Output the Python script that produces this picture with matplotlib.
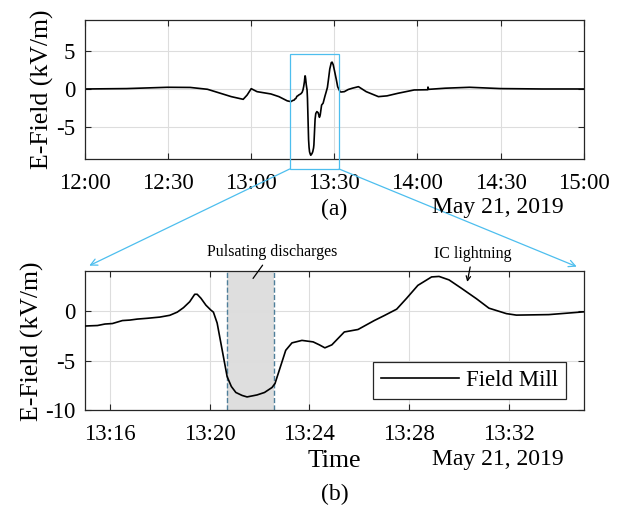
import numpy as np
import matplotlib
matplotlib.use('Agg')
from matplotlib import pyplot as plt
from matplotlib.patches import Rectangle, ConnectionPatch
from matplotlib.ticker import FuncFormatter

plt.rcParams['font.family'] = ['Liberation Serif', 'DejaVu Serif']
plt.rcParams['axes.unicode_minus'] = False

# -----------------------------------------------
# данные: время в минутах после 12:00, поле в kV/m
wide_t_before = [0, 15, 29.8, 38, 44.2, 47, 52.8, 57.1, 58.5, 60, 62.1, 67.1, 70, 73, 74.3]
wide_v_before = [0.0, 0.05, 0.22, 0.2, -0.04, -0.35, -1.0, -1.35, -0.8, 0.04, -0.35, -0.65, -1.0, -1.55, -1.65]

wide_t_after = [96.5, 98.7, 101.5, 105.9, 109, 113, 118.8, 123.7, 123.8, 124, 130, 138.8, 150, 165, 180]
wide_v_after = [0.1, 0.3, -0.35, -1.0, -0.9, -0.56, -0.13, -0.1, 0.25, -0.05, 0.1, 0.22, 0.05, 0.0, 0.0]

# минуты после 13:15 (увеличенный фрагмент)
zoom_t = [0.0, 0.5, 0.8, 1.1, 1.3, 1.5, 1.8, 2.1, 2.5, 3.0, 3.4, 3.7, 3.95, 4.2, 4.4, 4.5,
          4.65, 4.85, 5.05, 5.15, 5.3, 5.5, 5.7, 5.87, 6.05, 6.3, 6.5, 6.7, 6.9, 7.2, 7.5,
          7.62, 7.8, 8.05, 8.3, 8.7, 9.15, 9.4, 9.62, 9.9, 10.4, 10.95, 11.6, 12.0, 12.5,
          12.9, 13.35, 13.9, 14.2, 14.6, 15.1, 15.7, 16.2, 16.9, 17.3, 18.6, 20.0]
zoom_v = [-1.5, -1.45, -1.3, -1.25, -1.1, -0.95, -0.9, -0.8, -0.72, -0.6, -0.42, -0.1, 0.35,
          0.95, 1.7, 1.7, 1.3, 0.6, 0.1, -0.1, -1.2, -3.9, -6.6, -7.6, -8.2, -8.5, -8.65,
          -8.55, -8.45, -8.2, -7.7, -7.3, -5.9, -3.95, -3.2, -2.95, -3.1, -3.4, -3.7, -3.4,
          -2.1, -1.85, -0.95, -0.45, 0.2, 1.3, 2.6, 3.45, 3.5, 3.15, 2.3, 1.25, 0.3, -0.25,
          -0.4, -0.35, -0.07]
zoom_offset = 75  # 13:15

top_ticks = [0, 30, 60, 90, 120, 150, 180]
bottom_ticks = [76, 80, 84, 88, 92]
pulse_start, pulse_end = 80.68, 82.58
ic_time = 90.33
date_text = 'May 21, 2019'
# -----------------------------------------------

zt = np.array(zoom_t) + zoom_offset
wide_t = np.concatenate([wide_t_before, zt, wide_t_after])
wide_v = np.concatenate([wide_v_before, zoom_v, wide_v_after])

blue = '#4DBEEE'
fs_tick = 16.5


def hhmm(x, pos=None):
    m = int(round(x)) + 12 * 60
    return f'{m // 60}:{m % 60:02d}'


def style_axes(ax):
    ax.grid(True, color='#DDDDDD', linewidth=0.8)
    ax.set_axisbelow(True)
    ax.tick_params(direction='in', top=True, right=True, length=4, width=0.8,
                   labelsize=fs_tick, color='#262626')
    ax.tick_params(axis='x', pad=10)
    ax.tick_params(axis='y', pad=7)
    for s in ax.spines.values():
        s.set_color('#262626')
        s.set_linewidth(0.9)
    ax.xaxis.set_major_formatter(FuncFormatter(hhmm))


fig = plt.figure(figsize=(6.24, 5.08), dpi=100)
ax1 = fig.add_axes([0.1362, 0.6876, 0.7992, 0.273])
ax2 = fig.add_axes([0.1362, 0.1923, 0.7992, 0.2733])

# (a) общий вид
ax1.plot(wide_t, wide_v, color='black', linewidth=1.2)
ax1.set_xlim(0, 180)
ax1.set_ylim(-9.1, 9)
ax1.set_xticks(top_ticks)
ax1.set_yticks([-5, 0, 5])
style_axes(ax1)
ax1.set_ylabel('E-Field (kV/m)', fontsize=18.5, va='center')
ax1.yaxis.set_label_coords(-0.085, 0.5)

rect = Rectangle((73.9, -10.44), 91.7 - 73.9, 4.57 + 10.44, fill=False,
                 edgecolor=blue, linewidth=0.9, clip_on=False, zorder=5)
ax1.add_patch(rect)

# (b) увеличенный фрагмент
ax2.axvspan(pulse_start, pulse_end, color='#DEDEDE', zorder=0.5, linewidth=0)
for xv in (pulse_start, pulse_end):
    ax2.axvline(xv, color='#4F7F9A', linestyle='--', linewidth=1.0, zorder=1)
ax2.plot(zt, zoom_v, color='black', linewidth=1.2, label='Field Mill', zorder=3)
ax2.set_xlim(75, 95)
ax2.set_ylim(-10, 4)
ax2.set_xticks(bottom_ticks)
ax2.set_yticks([-10, -5, 0])
style_axes(ax2)
ax2.set_ylabel('E-Field (kV/m)', fontsize=18.5, va='center')
ax2.yaxis.set_label_coords(-0.105, 0.5)
ax2.set_xlabel('Time', fontsize=18.5, va='center')
ax2.xaxis.set_label_coords(0.5, -0.365)

leg = ax2.legend(loc='lower right', bbox_to_anchor=(0.9645, 0.081), fontsize=fs_tick,
                 frameon=True, fancybox=False, edgecolor='#262626', framealpha=1,
                 handlelength=3.4, borderaxespad=0, borderpad=0.35, handletextpad=0.3)
leg.get_frame().set_linewidth(0.9)

ax2.annotate('Pulsating discharges', xy=(81.74, 3.3), xytext=(82.5, 5.95),
             fontsize=11.5, ha='center', va='center', annotation_clip=False,
             arrowprops=dict(arrowstyle='-', color='black', lw=0.9, shrinkA=2, shrinkB=0))
ax2.annotate('IC lightning', xy=(ic_time, 2.95), xytext=(90.55, 5.75),
             fontsize=11.5, ha='center', va='center', annotation_clip=False,
             arrowprops=dict(arrowstyle='->', color='black', lw=0.9, shrinkA=1.5, shrinkB=0,
                             mutation_scale=8))

# голубые линии между панелями
for xa, xb, yb in ((73.9, 0.0086, 1.042), (91.7, 0.986, 1.035)):
    con = ConnectionPatch(xyA=(xa, -10.44), coordsA=ax1.transData,
                          xyB=(xb, yb), coordsB=ax2.transAxes,
                          arrowstyle='->', color=blue, linewidth=0.9, mutation_scale=12)
    fig.add_artist(con)

fig.text(0.536, 0.5886, '(a)', fontsize=17, ha='center', va='center')
fig.text(0.798, 0.5906, date_text, fontsize=17, ha='center', va='center')
fig.text(0.536, 0.0264, '(b)', fontsize=17, ha='center', va='center')
fig.text(0.798, 0.0945, date_text, fontsize=17, ha='center', va='center')

fig.savefig('out.png', dpi=100)
